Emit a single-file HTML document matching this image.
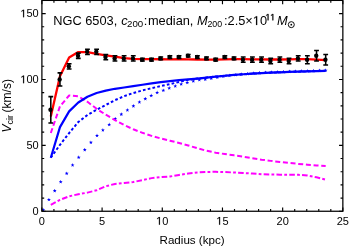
<!DOCTYPE html>
<html><head><meta charset="utf-8"><title>NGC 6503</title>
<style>html,body{margin:0;padding:0;background:#fff;}svg{display:block;will-change:transform;}text{font-family:"Liberation Sans",sans-serif;fill:#000;}</style></head><body>
<svg width="350" height="248" viewBox="0 0 350 248">
<clipPath id="c"><rect x="41.9" y="0.4" width="300.95000000000005" height="210.85"/></clipPath>
<g clip-path="url(#c)" fill="none" stroke-linejoin="round">
<path d="M43.20,207.95L43.70,209.31L45.15,209.37L44.01,210.26L44.40,211.66L43.20,210.85L42.00,211.66L42.39,210.26L41.25,209.37L42.70,209.31ZM48.90,197.65L49.40,199.01L50.85,199.07L49.71,199.96L50.10,201.36L48.90,200.55L47.70,201.36L48.09,199.96L46.95,199.07L48.40,199.01ZM54.70,188.75L55.20,190.11L56.65,190.17L55.51,191.06L55.90,192.46L54.70,191.65L53.50,192.46L53.89,191.06L52.75,190.17L54.20,190.11ZM60.70,179.85L61.20,181.21L62.65,181.27L61.51,182.16L61.90,183.56L60.70,182.75L59.50,183.56L59.89,182.16L58.75,181.27L60.20,181.21ZM66.70,171.45L67.20,172.81L68.65,172.87L67.51,173.76L67.90,175.16L66.70,174.35L65.50,175.16L65.89,173.76L64.75,172.87L66.20,172.81ZM72.60,163.05L73.10,164.41L74.55,164.47L73.41,165.36L73.80,166.76L72.60,165.95L71.40,166.76L71.79,165.36L70.65,164.47L72.10,164.41ZM78.70,155.35L79.20,156.71L80.65,156.77L79.51,157.66L79.90,159.06L78.70,158.25L77.50,159.06L77.89,157.66L76.75,156.77L78.20,156.71ZM84.75,147.75L85.25,149.11L86.70,149.17L85.56,150.06L85.95,151.46L84.75,150.65L83.55,151.46L83.94,150.06L82.80,149.17L84.25,149.11ZM90.90,140.45L91.40,141.81L92.85,141.87L91.71,142.76L92.10,144.16L90.90,143.35L89.70,144.16L90.09,142.76L88.95,141.87L90.40,141.81ZM97.00,133.60L97.50,134.96L98.95,135.02L97.81,135.91L98.20,137.31L97.00,136.50L95.80,137.31L96.19,135.91L95.05,135.02L96.50,134.96ZM102.90,128.05L103.40,129.41L104.85,129.47L103.71,130.36L104.10,131.76L102.90,130.95L101.70,131.76L102.09,130.36L100.95,129.47L102.40,129.41ZM109.20,122.55L109.70,123.91L111.15,123.97L110.01,124.86L110.40,126.26L109.20,125.45L108.00,126.26L108.39,124.86L107.25,123.97L108.70,123.91ZM115.20,116.75L115.70,118.11L117.15,118.17L116.01,119.06L116.40,120.46L115.20,119.65L114.00,120.46L114.39,119.06L113.25,118.17L114.70,118.11ZM121.30,112.25L121.80,113.61L123.25,113.67L122.11,114.56L122.50,115.96L121.30,115.15L120.10,115.96L120.49,114.56L119.35,113.67L120.80,113.61ZM127.40,108.05L127.90,109.41L129.35,109.47L128.21,110.36L128.60,111.76L127.40,110.95L126.20,111.76L126.59,110.36L125.45,109.47L126.90,109.41ZM133.40,104.00L133.90,105.36L135.35,105.42L134.21,106.31L134.60,107.71L133.40,106.90L132.20,107.71L132.59,106.31L131.45,105.42L132.90,105.36ZM139.40,100.05L139.90,101.41L141.35,101.47L140.21,102.36L140.60,103.76L139.40,102.95L138.20,103.76L138.59,102.36L137.45,101.47L138.90,101.41ZM145.30,96.75L145.80,98.11L147.25,98.17L146.11,99.06L146.50,100.46L145.30,99.65L144.10,100.46L144.49,99.06L143.35,98.17L144.80,98.11ZM151.20,93.60L151.70,94.96L153.15,95.02L152.01,95.91L152.40,97.31L151.20,96.50L150.00,97.31L150.39,95.91L149.25,95.02L150.70,94.96ZM157.15,90.60L157.65,91.96L159.10,92.02L157.96,92.91L158.35,94.31L157.15,93.50L155.95,94.31L156.34,92.91L155.20,92.02L156.65,91.96ZM163.30,88.40L163.80,89.76L165.25,89.82L164.11,90.71L164.50,92.11L163.30,91.30L162.10,92.11L162.49,90.71L161.35,89.82L162.80,89.76ZM169.20,86.10L169.70,87.46L171.15,87.52L170.01,88.41L170.40,89.81L169.20,89.00L168.00,89.81L168.39,88.41L167.25,87.52L168.70,87.46ZM175.25,84.05L175.75,85.41L177.20,85.47L176.06,86.36L176.45,87.76L175.25,86.95L174.05,87.76L174.44,86.36L173.30,85.47L174.75,85.41ZM181.15,82.15L181.65,83.51L183.10,83.57L181.96,84.46L182.35,85.86L181.15,85.05L179.95,85.86L180.34,84.46L179.20,83.57L180.65,83.51ZM187.25,80.65L187.75,82.01L189.20,82.07L188.06,82.96L188.45,84.36L187.25,83.55L186.05,84.36L186.44,82.96L185.30,82.07L186.75,82.01ZM193.30,79.15L193.80,80.51L195.25,80.57L194.11,81.46L194.50,82.86L193.30,82.05L192.10,82.86L192.49,81.46L191.35,80.57L192.80,80.51ZM199.30,77.85L199.80,79.21L201.25,79.27L200.11,80.16L200.50,81.56L199.30,80.75L198.10,81.56L198.49,80.16L197.35,79.27L198.80,79.21ZM205.24,77.26L205.74,78.62L207.19,78.67L206.05,79.57L206.44,80.96L205.24,80.16L204.04,80.96L204.43,79.57L203.29,78.67L204.74,78.62ZM211.26,76.25L211.76,77.61L213.21,77.66L212.07,78.56L212.46,79.95L211.26,79.15L210.06,79.95L210.45,78.56L209.31,77.66L210.76,77.61ZM217.28,75.35L217.78,76.72L219.23,76.77L218.09,77.67L218.48,79.06L217.28,78.25L216.08,79.06L216.47,77.67L215.33,76.77L216.78,76.72ZM223.30,74.47L223.80,75.83L225.25,75.88L224.11,76.78L224.50,78.17L223.30,77.37L222.10,78.17L222.49,76.78L221.35,75.88L222.80,75.83ZM229.32,73.61L229.82,74.97L231.27,75.03L230.13,75.92L230.52,77.32L229.32,76.51L228.12,77.32L228.51,75.92L227.37,75.03L228.82,74.97ZM235.34,72.90L235.84,74.27L237.29,74.32L236.15,75.22L236.54,76.61L235.34,75.80L234.14,76.61L234.53,75.22L233.39,74.32L234.84,74.27ZM241.36,72.26L241.86,73.62L243.31,73.67L242.17,74.57L242.56,75.96L241.36,75.16L240.16,75.96L240.55,74.57L239.41,73.67L240.86,73.62ZM247.38,71.74L247.88,73.10L249.33,73.15L248.19,74.05L248.58,75.45L247.38,74.64L246.18,75.45L246.57,74.05L245.43,73.15L246.88,73.10ZM253.40,71.24L253.90,72.60L255.35,72.66L254.21,73.55L254.60,74.95L253.40,74.14L252.20,74.95L252.59,73.55L251.45,72.66L252.90,72.60ZM259.42,70.76L259.92,72.12L261.37,72.17L260.23,73.07L260.62,74.47L259.42,73.66L258.22,74.47L258.61,73.07L257.47,72.17L258.92,72.12ZM265.44,70.46L265.94,71.83L267.39,71.88L266.25,72.78L266.64,74.17L265.44,73.36L264.24,74.17L264.63,72.78L263.49,71.88L264.94,71.83ZM271.46,70.21L271.96,71.57L273.41,71.63L272.27,72.52L272.66,73.92L271.46,73.11L270.26,73.92L270.65,72.52L269.51,71.63L270.96,71.57ZM277.48,69.93L277.98,71.30L279.43,71.35L278.29,72.25L278.68,73.64L277.48,72.83L276.28,73.64L276.67,72.25L275.53,71.35L276.98,71.30ZM283.50,69.69L284.00,71.05L285.45,71.11L284.31,72.00L284.70,73.40L283.50,72.59L282.30,73.40L282.69,72.00L281.55,71.11L283.00,71.05ZM289.52,69.48L290.02,70.84L291.47,70.89L290.33,71.79L290.72,73.19L289.52,72.38L288.32,73.19L288.71,71.79L287.57,70.89L289.02,70.84ZM295.54,69.27L296.04,70.63L297.49,70.69L296.35,71.58L296.74,72.98L295.54,72.17L294.34,72.98L294.73,71.58L293.59,70.69L295.04,70.63ZM301.56,69.09L302.06,70.45L303.51,70.50L302.37,71.40L302.76,72.79L301.56,71.99L300.36,72.79L300.75,71.40L299.61,70.50L301.06,70.45ZM307.58,68.91L308.08,70.27L309.53,70.33L308.39,71.22L308.78,72.62L307.58,71.81L306.38,72.62L306.77,71.22L305.63,70.33L307.08,70.27ZM313.60,68.70L314.10,70.06L315.55,70.11L314.41,71.01L314.80,72.41L313.60,71.60L312.40,72.41L312.79,71.01L311.65,70.11L313.10,70.06ZM319.62,68.51L320.12,69.87L321.57,69.93L320.43,70.82L320.82,72.22L319.62,71.41L318.42,72.22L318.81,70.82L317.67,69.93L319.12,69.87ZM325.64,68.35L326.14,69.71L327.59,69.77L326.45,70.66L326.84,72.06L325.64,71.25L324.44,72.06L324.83,70.66L323.69,69.77L325.14,69.71Z" fill="#0000ff" stroke="none"/>
<polyline points="50.80,204.90 59.96,199.85 69.13,196.29 78.29,194.26 87.45,192.62 96.61,190.29 105.78,186.23 114.94,183.97 124.10,182.92 133.27,182.06 142.43,180.04 151.59,178.12 160.76,177.14 169.92,176.51 179.08,174.94 188.25,173.46 197.41,172.48 206.57,171.94 215.73,171.83 224.90,172.10 234.06,172.52 243.22,172.96 252.39,173.55 261.55,174.15 270.71,174.51 279.88,174.64 289.04,174.71 298.20,174.84 307.36,175.46 316.53,177.27 325.69,179.70" stroke="#ff00ff" stroke-width="2.0" stroke-dasharray="5.6 2.2 2.8 2.2"/>
<polyline points="50.80,133.00 59.96,106.36 69.13,95.50 78.29,96.30 87.45,101.77 96.61,108.81 105.78,114.72 114.94,120.04 124.10,125.04 133.27,129.26 142.43,132.82 151.59,135.88 160.76,138.44 169.92,140.70 179.08,142.94 188.25,145.47 197.41,148.24 206.57,150.79 215.73,152.68 224.90,154.09 234.06,155.35 243.22,156.70 252.39,158.20 261.55,159.65 270.71,160.88 279.88,161.95 289.04,162.96 298.20,163.88 307.36,164.71 316.53,165.43 325.69,166.00" stroke="#ff00ff" stroke-width="2.0" stroke-dasharray="5 2.7"/>
<polyline points="50.80,157.70 59.96,144.85 69.13,133.09 78.29,122.01 87.45,115.03 96.61,109.69 105.78,104.91 114.94,100.18 124.10,96.20 133.27,93.01 142.43,90.39 151.59,88.20 160.76,86.01 169.92,84.10 179.08,82.00 188.25,79.81 197.41,78.59 206.57,77.49 215.73,76.56 224.90,75.71 234.06,74.94 243.22,74.27 252.39,73.66 261.55,73.09 270.71,72.69 279.88,72.28 289.04,71.94 298.20,71.64 307.36,71.37 316.53,71.05 325.69,70.80" stroke="#0000ff" stroke-width="2.0" stroke-dasharray="2.7 2.2"/>
<polyline points="50.80,157.70 59.96,127.08 69.13,111.39 78.29,102.51 87.45,96.72 96.61,93.00 105.78,90.60 114.94,88.79 124.10,87.52 133.27,86.15 142.43,84.76 151.59,83.45 160.76,82.21 169.92,81.15 179.08,80.18 188.25,79.36 197.41,78.54 206.57,77.57 215.73,76.66 224.90,75.77 234.06,74.95 243.22,74.27 252.39,73.66 261.55,73.09 270.71,72.69 279.88,72.28 289.04,71.94 298.20,71.64 307.36,71.37 316.53,71.05 325.69,70.80" stroke="#0000ff" stroke-width="2.2"/>
<polyline points="50.80,116.62 59.96,76.29 69.13,57.45 78.29,52.09 87.45,52.22 96.61,53.87 105.78,55.39 114.94,56.69 124.10,58.04 133.27,58.78 142.43,59.15 151.59,59.19 160.76,59.26 169.92,59.35 179.08,59.26 188.25,59.30 197.41,59.51 206.57,59.64 215.73,59.55 224.90,59.36 234.06,59.21 243.22,59.20 252.39,59.32 261.55,59.45 270.71,59.50 279.88,59.50 289.04,59.38 298.20,59.22 307.36,59.18 316.53,59.61 325.69,60.17" stroke="#ff0000" stroke-width="2.3"/>
</g>
<path d="M50.80,96.60V122.96M48.40,96.60H53.20M48.40,122.96H53.20M59.96,72.88V86.06M57.56,72.88H62.36M57.56,86.06H62.36M69.13,63.66V68.93M66.73,63.66H71.53M66.73,68.93H71.53M78.29,53.11V58.38M75.89,53.11H80.69M75.89,58.38H80.69M87.45,49.16V54.43M85.05,49.16H89.85M85.05,54.43H89.85M96.61,49.16V54.43M94.21,49.16H99.02M94.21,54.43H99.02M105.78,54.43V59.70M103.38,54.43H108.18M103.38,59.70H108.18M114.94,55.75V61.02M112.54,55.75H117.34M112.54,61.02H117.34M124.10,55.75V61.02M121.70,55.75H126.50M121.70,61.02H126.50M133.27,55.75V61.02M130.87,55.75H135.67M130.87,61.02H135.67M142.43,58.38V61.02M140.03,58.38H144.83M140.03,61.02H144.83M151.59,58.38V61.02M149.19,58.38H153.99M149.19,61.02H153.99M160.76,57.07V59.70M158.36,57.07H163.16M158.36,59.70H163.16M169.92,55.75V58.38M167.52,55.75H172.32M167.52,58.38H172.32M179.08,55.75V58.38M176.68,55.75H181.48M176.68,58.38H181.48M188.25,54.43V57.07M185.84,54.43H190.65M185.84,57.07H190.65M197.41,55.75V58.38M195.01,55.75H199.81M195.01,58.38H199.81M206.57,57.07V59.70M204.17,57.07H208.97M204.17,59.70H208.97M215.73,58.38V61.02M213.33,58.38H218.13M213.33,61.02H218.13M224.90,55.75V58.38M222.50,55.75H227.30M222.50,58.38H227.30M234.06,57.07V59.70M231.66,57.07H236.46M231.66,59.70H236.46M243.22,57.07V62.34M240.82,57.07H245.62M240.82,62.34H245.62M252.39,57.07V62.34M249.99,57.07H254.79M249.99,62.34H254.79M261.55,57.07V62.34M259.15,57.07H263.95M259.15,62.34H263.95M270.71,58.38V63.66M268.31,58.38H273.11M268.31,63.66H273.11M279.88,57.07V62.34M277.48,57.07H282.27M277.48,62.34H282.27M289.04,58.38V63.66M286.64,58.38H291.44M286.64,63.66H291.44M298.20,55.75V61.02M295.80,55.75H300.60M295.80,61.02H300.60M307.36,55.75V63.66M304.96,55.75H309.76M304.96,63.66H309.76M316.53,50.48V61.02M314.13,50.48H318.93M314.13,61.02H318.93M325.69,54.43V64.97M323.29,54.43H328.09M323.29,64.97H328.09" stroke="#000" stroke-width="1.55" fill="none"/>
<circle cx="50.50" cy="109.78" r="2.2" fill="#000"/>
<circle cx="59.66" cy="79.47" r="2.2" fill="#000"/>
<circle cx="68.83" cy="66.29" r="2.2" fill="#000"/>
<circle cx="77.99" cy="55.75" r="2.2" fill="#000"/>
<circle cx="87.15" cy="51.79" r="2.2" fill="#000"/>
<circle cx="96.31" cy="51.79" r="2.2" fill="#000"/>
<circle cx="105.48" cy="57.07" r="2.2" fill="#000"/>
<circle cx="114.64" cy="58.38" r="2.2" fill="#000"/>
<circle cx="123.80" cy="58.38" r="2.2" fill="#000"/>
<circle cx="132.97" cy="58.38" r="2.2" fill="#000"/>
<circle cx="142.13" cy="59.70" r="2.2" fill="#000"/>
<circle cx="151.29" cy="59.70" r="2.2" fill="#000"/>
<circle cx="160.46" cy="58.38" r="2.2" fill="#000"/>
<circle cx="169.62" cy="57.07" r="2.2" fill="#000"/>
<circle cx="178.78" cy="57.07" r="2.2" fill="#000"/>
<circle cx="187.94" cy="55.75" r="2.2" fill="#000"/>
<circle cx="197.11" cy="57.07" r="2.2" fill="#000"/>
<circle cx="206.27" cy="58.38" r="2.2" fill="#000"/>
<circle cx="215.43" cy="59.70" r="2.2" fill="#000"/>
<circle cx="224.60" cy="57.07" r="2.2" fill="#000"/>
<circle cx="233.76" cy="58.38" r="2.2" fill="#000"/>
<circle cx="242.92" cy="59.70" r="2.2" fill="#000"/>
<circle cx="252.09" cy="59.70" r="2.2" fill="#000"/>
<circle cx="261.25" cy="59.70" r="2.2" fill="#000"/>
<circle cx="270.41" cy="61.02" r="2.2" fill="#000"/>
<circle cx="279.57" cy="59.70" r="2.2" fill="#000"/>
<circle cx="288.74" cy="61.02" r="2.2" fill="#000"/>
<circle cx="297.90" cy="58.38" r="2.2" fill="#000"/>
<circle cx="307.06" cy="59.70" r="2.2" fill="#000"/>
<circle cx="316.23" cy="55.75" r="2.2" fill="#000"/>
<circle cx="325.39" cy="59.70" r="2.2" fill="#000"/>
<path d="M41.90,211.25v-3.8M41.90,0.4v3.8M53.94,211.25v-2.3M53.94,0.4v2.3M65.98,211.25v-2.3M65.98,0.4v2.3M78.01,211.25v-2.3M78.01,0.4v2.3M90.05,211.25v-2.3M90.05,0.4v2.3M102.09,211.25v-3.8M102.09,0.4v3.8M114.13,211.25v-2.3M114.13,0.4v2.3M126.17,211.25v-2.3M126.17,0.4v2.3M138.20,211.25v-2.3M138.20,0.4v2.3M150.24,211.25v-2.3M150.24,0.4v2.3M162.28,211.25v-3.8M162.28,0.4v3.8M174.32,211.25v-2.3M174.32,0.4v2.3M186.36,211.25v-2.3M186.36,0.4v2.3M198.39,211.25v-2.3M198.39,0.4v2.3M210.43,211.25v-2.3M210.43,0.4v2.3M222.47,211.25v-3.8M222.47,0.4v3.8M234.51,211.25v-2.3M234.51,0.4v2.3M246.55,211.25v-2.3M246.55,0.4v2.3M258.58,211.25v-2.3M258.58,0.4v2.3M270.62,211.25v-2.3M270.62,0.4v2.3M282.66,211.25v-3.8M282.66,0.4v3.8M294.70,211.25v-2.3M294.70,0.4v2.3M306.74,211.25v-2.3M306.74,0.4v2.3M318.77,211.25v-2.3M318.77,0.4v2.3M330.81,211.25v-2.3M330.81,0.4v2.3M342.85,211.25v-3.8M342.85,0.4v3.8M41.9,211.25h3.8M342.85,211.25h-3.8M41.9,198.07h2.3M342.85,198.07h-2.3M41.9,184.89h2.3M342.85,184.89h-2.3M41.9,171.72h2.3M342.85,171.72h-2.3M41.9,158.54h2.3M342.85,158.54h-2.3M41.9,145.36h3.8M342.85,145.36h-3.8M41.9,132.18h2.3M342.85,132.18h-2.3M41.9,119.00h2.3M342.85,119.00h-2.3M41.9,105.82h2.3M342.85,105.82h-2.3M41.9,92.65h2.3M342.85,92.65h-2.3M41.9,79.47h3.8M342.85,79.47h-3.8M41.9,66.29h2.3M342.85,66.29h-2.3M41.9,53.11h2.3M342.85,53.11h-2.3M41.9,39.93h2.3M342.85,39.93h-2.3M41.9,26.76h2.3M342.85,26.76h-2.3M41.9,13.58h3.8M342.85,13.58h-3.8M41.9,0.40h2.3M342.85,0.40h-2.3" stroke="#000" stroke-width="1.15" fill="none"/>
<rect x="41.9" y="0.4" width="300.95000000000005" height="210.85" fill="none" stroke="#000" stroke-width="1.25"/>
<text x="38.84" y="224.65" font-size="11">0</text>
<text x="99.03" y="224.65" font-size="11">5</text>
<path d="M158.93,224.65L158.93,218.01L157.22,219.23L157.22,218.31L159.01,217.08L159.90,217.08L159.90,224.65Z" fill="#000" stroke="#000" stroke-width="0.15"/><text x="162.28" y="224.65" font-size="11">0</text>
<path d="M219.12,224.65L219.12,218.01L217.41,219.23L217.41,218.31L219.20,217.08L220.09,217.08L220.09,224.65Z" fill="#000" stroke="#000" stroke-width="0.15"/><text x="222.47" y="224.65" font-size="11">5</text>
<text x="276.54" y="224.65" font-size="11">20</text>
<text x="336.73" y="224.65" font-size="11">25</text>
<text x="32.58" y="214.95" font-size="11">0</text>
<text x="26.46" y="149.06" font-size="11">50</text>
<path d="M23.11,83.17L23.11,76.52L21.41,77.74L21.41,76.83L23.19,75.60L24.09,75.60L24.09,83.17Z" fill="#000" stroke="#000" stroke-width="0.15"/><text x="26.46" y="83.17" font-size="11">00</text>
<path d="M23.11,17.28L23.11,10.63L21.41,11.85L21.41,10.94L23.19,9.71L24.09,9.71L24.09,17.28Z" fill="#000" stroke="#000" stroke-width="0.15"/><text x="26.46" y="17.28" font-size="11">50</text>
<text x="192.1" y="244.1" font-size="11.6" text-anchor="middle">Radius (kpc)</text>
<text transform="translate(10.7,105.8) rotate(-90)" font-size="12" text-anchor="middle"><tspan font-style="italic">V</tspan><tspan font-size="9" dy="2">cir</tspan><tspan dy="-2" dx="-0.75"> (km/s)</tspan></text>
<text x="53.20" y="25.10" font-size="12.8">NGC 6503,</text>
<text x="121.20" y="25.10" font-size="12.8" font-style="italic">c</text>
<text x="127.00" y="27.20" font-size="9.7">200</text>
<text x="143.70" y="25.10" font-size="12.8">:</text>
<text x="147.90" y="25.10" font-size="12.8">median,</text>
<text x="196.90" y="25.10" font-size="12.8" font-style="italic">M</text>
<text x="207.40" y="27.10" font-size="8.8">200</text>
<text x="224.00" y="25.10" font-size="12.8">:2.5×</text><path d="M256.04,25.10L256.04,17.37L254.06,18.79L254.06,17.73L256.14,16.29L257.18,16.29L257.18,25.10Z" fill="#000" stroke="#000" stroke-width="0.15"/><text x="259.94" y="25.10" font-size="12.8">0</text>
<path d="M267.66,20.30L267.66,14.86L266.27,15.86L266.27,15.11L267.73,14.11L268.46,14.11L268.46,20.30Z" fill="#000" stroke="#000" stroke-width="0.35"/>
<path d="M272.46,20.30L272.46,14.86L271.07,15.86L271.07,15.11L272.53,14.11L273.26,14.11L273.26,20.30Z" fill="#000" stroke="#000" stroke-width="0.35"/>
<text x="276.90" y="25.10" font-size="12.8" font-style="italic">M</text>
<circle cx="291.3" cy="24.65" r="3.0" fill="none" stroke="#000" stroke-width="0.95"/><circle cx="291.3" cy="24.65" r="0.9" fill="#000"/>
</svg></body></html>
